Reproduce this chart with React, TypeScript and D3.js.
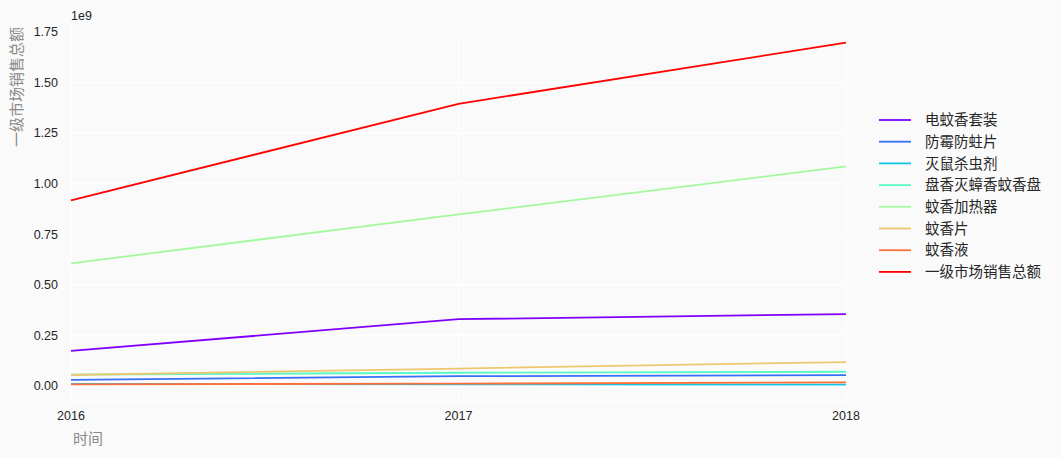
import React from "react";
import * as d3 from "d3";

const years = [2016, 2017, 2018];
const seriesNames = ["电蚊香套装", "防霉防蛀片", "灭鼠杀虫剂", "盘香灭蟑香蚊香盘", "蚊香加热器", "蚊香片", "蚊香液", "一级市场销售总额"];
const dianWenXiang = [0.173e9, 0.330e9, 0.355e9];
const fangMei = [0.030e9, 0.048e9, 0.053e9];
const mieShu = [0.010e9, 0.008e9, 0.006e9];
const panXiang = [0.056e9, 0.065e9, 0.070e9];
const jiaReQi = [0.606e9, 0.848e9, 1.085e9];
const wenXiangPian = [0.054e9, 0.086e9, 0.118e9];
const wenXiangYe = [0.008e9, 0.011e9, 0.018e9];
const total = [0.917e9, 1.395e9, 1.697e9];
const seriesValues = [dianWenXiang, fangMei, mieShu, panXiang, jiaReQi, wenXiangPian, wenXiangYe, total];
const yTicks = [0, 0.25e9, 0.5e9, 0.75e9, 1.0e9, 1.25e9, 1.5e9, 1.75e9];
const xTicks = [2016, 2017, 2018];

function rainbow(t: number): string {
  const r = Math.min(1, Math.abs(2 * t - 0.5));
  const g = Math.sin(Math.PI * t);
  const b = Math.cos((Math.PI * t) / 2);
  return d3.rgb(r * 255, g * 255, Math.max(0, b) * 255).formatHex();
}

export default function App() {
  const W = 1061, H = 458;
  const left = 71, right = 846, top = 25, bottom = 402;
  const x = d3.scaleLinear().domain([2016, 2018]).range([left, right]);
  const y = d3.scaleLinear().domain([-0.0795e9, 1.7845e9]).range([bottom, top]);
  const line = d3.line<number>().x((_, i) => x(years[i])).y((d) => y(d));
  const colors = seriesNames.map((_, i) => rainbow(i / (seriesNames.length - 1)));
  const font = "'Liberation Sans', Arial, 'Noto Sans CJK SC', sans-serif";
  const legX = 879, legY0 = 120, legStep = 21.7;
  return (
    <svg width={W} height={H} style={{ position: "absolute", left: 0, top: 0, background: "#fafafa" }} fontFamily={font}>
      <rect x={0} y={0} width={W} height={H} fill="#fafafa" />
      {yTicks.map((t) => (
        <line key={"gy" + t} x1={left} x2={right} y1={y(t)} y2={y(t)} stroke="#ffffff" strokeWidth={1.2} />
      ))}
      {xTicks.map((t) => (
        <line key={"gx" + t} x1={x(t)} x2={x(t)} y1={top} y2={bottom} stroke="#ffffff" strokeWidth={1.2} />
      ))}
      <line x1={left} x2={right} y1={bottom} y2={bottom} stroke="#ffffff" strokeWidth={1.2} />
      {seriesValues.map((vals, i) => (
        <path key={"s" + i} d={line(vals) || ""} fill="none" stroke={colors[i]} strokeWidth={1.8} />
      ))}
      {yTicks.map((t) => (
        <text key={"ty" + t} x={58} y={y(t)} dy="0.35em" textAnchor="end" fontSize={12.5} fill="#262626">
          {(t / 1e9).toFixed(2)}
        </text>
      ))}
      {xTicks.map((t) => (
        <text key={"tx" + t} x={x(t)} y={420} textAnchor="middle" fontSize={12.5} fill="#262626">
          {t}
        </text>
      ))}
      <text x={71} y={20} fontSize={12.5} fill="#262626">1e9</text>
      <text x={73} y={444} fontSize={15} fill="#8a8a8a">时间</text>
      <text transform={`translate(22,${top + 2}) rotate(-90)`} textAnchor="end" fontSize={15} fill="#8a8a8a">一级市场销售总额</text>
      {seriesNames.map((n, i) => (
        <g key={"l" + i}>
          <line x1={legX} x2={legX + 32} y1={legY0 + i * legStep} y2={legY0 + i * legStep} stroke={colors[i]} strokeWidth={1.8} />
          <text x={925} y={legY0 + i * legStep} dy="0.36em" fontSize={14.5} fill="#262626">{n}</text>
        </g>
      ))}
    </svg>
  );
}
